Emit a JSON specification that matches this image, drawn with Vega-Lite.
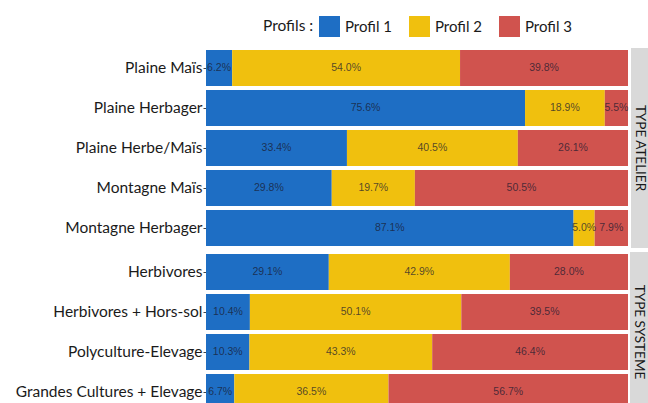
{
  "$schema": "https://vega.github.io/schema/vega-lite/v6.json",
  "padding": {"left": 0, "top": 16, "right": 0, "bottom": 0},
  "background": "white",
  "datasets": {
    "d": [
      {"panel": "A", "cat": "Plaine Maïs", "profil": "Profil 1", "pct": 6.2},
      {"panel": "A", "cat": "Plaine Maïs", "profil": "Profil 2", "pct": 54.0},
      {"panel": "A", "cat": "Plaine Maïs", "profil": "Profil 3", "pct": 39.8},
      {"panel": "A", "cat": "Plaine Herbager", "profil": "Profil 1", "pct": 75.6},
      {"panel": "A", "cat": "Plaine Herbager", "profil": "Profil 2", "pct": 18.9},
      {"panel": "A", "cat": "Plaine Herbager", "profil": "Profil 3", "pct": 5.5},
      {"panel": "A", "cat": "Plaine Herbe/Maïs", "profil": "Profil 1", "pct": 33.4},
      {"panel": "A", "cat": "Plaine Herbe/Maïs", "profil": "Profil 2", "pct": 40.5},
      {"panel": "A", "cat": "Plaine Herbe/Maïs", "profil": "Profil 3", "pct": 26.1},
      {"panel": "A", "cat": "Montagne Maïs", "profil": "Profil 1", "pct": 29.8},
      {"panel": "A", "cat": "Montagne Maïs", "profil": "Profil 2", "pct": 19.7},
      {"panel": "A", "cat": "Montagne Maïs", "profil": "Profil 3", "pct": 50.5},
      {"panel": "A", "cat": "Montagne Herbager", "profil": "Profil 1", "pct": 87.1},
      {"panel": "A", "cat": "Montagne Herbager", "profil": "Profil 2", "pct": 5.0},
      {"panel": "A", "cat": "Montagne Herbager", "profil": "Profil 3", "pct": 7.9},
      {"panel": "B", "cat": "Herbivores", "profil": "Profil 1", "pct": 29.1},
      {"panel": "B", "cat": "Herbivores", "profil": "Profil 2", "pct": 42.9},
      {"panel": "B", "cat": "Herbivores", "profil": "Profil 3", "pct": 28.0},
      {"panel": "B", "cat": "Herbivores + Hors-sol", "profil": "Profil 1", "pct": 10.4},
      {"panel": "B", "cat": "Herbivores + Hors-sol", "profil": "Profil 2", "pct": 50.1},
      {"panel": "B", "cat": "Herbivores + Hors-sol", "profil": "Profil 3", "pct": 39.5},
      {"panel": "B", "cat": "Polyculture-Elevage", "profil": "Profil 1", "pct": 10.3},
      {"panel": "B", "cat": "Polyculture-Elevage", "profil": "Profil 2", "pct": 43.3},
      {"panel": "B", "cat": "Polyculture-Elevage", "profil": "Profil 3", "pct": 46.4},
      {"panel": "B", "cat": "Grandes Cultures + Elevage", "profil": "Profil 1", "pct": 6.7},
      {"panel": "B", "cat": "Grandes Cultures + Elevage", "profil": "Profil 2", "pct": 36.5},
      {"panel": "B", "cat": "Grandes Cultures + Elevage", "profil": "Profil 3", "pct": 56.7}
    ]
  },
  "vconcat": [
    {
      "hconcat": [
        {
          "width": 422,
          "height": 200,
          "data": {"name": "d"},
          "transform": [
            {"filter": "datum.panel === 'A'"},
            {"stack": "pct", "groupby": ["cat"], "sort": [{"field": "profil", "order": "ascending"}], "as": ["x0", "x1"], "offset": "normalize"},
            {"calculate": "(datum.x0 + datum.x1) / 2", "as": "mid"},
            {"calculate": "format(datum.pct, '.1f') + '%'", "as": "lab"}
          ],
          "encoding": {
            "y": {
              "field": "cat", "type": "nominal", "title": null,
              "sort": ["Plaine Maïs", "Plaine Herbager", "Plaine Herbe/Maïs", "Montagne Maïs", "Montagne Herbager"],
              "scale": {"paddingInner": 0.1, "paddingOuter": 0.05}
            }
          },
          "layer": [
            {
              "mark": {"type": "bar"},
              "encoding": {
                "x": {"field": "x0", "type": "quantitative", "scale": {"domain": [0, 1], "nice": false, "zero": false}, "axis": null},
                "x2": {"field": "x1"},
                "color": {
                  "field": "profil", "type": "nominal",
                  "scale": {"domain": ["Profil 1", "Profil 2", "Profil 3"], "range": ["#1E6EC4", "#F0C00E", "#D0534E"]},
                  "legend": {"title": "Profils :"}
                }
              }
            },
            {
              "mark": {"type": "text", "font": "Liberation Sans", "fontSize": 10.5, "fill": "#1a1a2e", "fillOpacity": 0.75},
              "encoding": {
                "x": {"field": "mid", "type": "quantitative"},
                "text": {"field": "lab"}
              }
            }
          ]
        },
        {
          "width": 18,
          "height": 200,
          "view": {"fill": "#d9d9d9", "stroke": null},
          "data": {"values": [{"g": "TYPE ATELIER"}]},
          "mark": {"type": "text", "angle": 90, "font": "Lato", "fontSize": 13.5, "fill": "#1a1a1a", "align": "center", "baseline": "middle"},
          "encoding": {"text": {"field": "g"}}
        }
      ]
    },
    {
      "hconcat": [
        {
          "width": 422,
          "height": 160,
          "data": {"name": "d"},
          "transform": [
            {"filter": "datum.panel === 'B'"},
            {"stack": "pct", "groupby": ["cat"], "sort": [{"field": "profil", "order": "ascending"}], "as": ["x0", "x1"], "offset": "normalize"},
            {"calculate": "(datum.x0 + datum.x1) / 2", "as": "mid"},
            {"calculate": "format(datum.pct, '.1f') + '%'", "as": "lab"}
          ],
          "encoding": {
            "y": {
              "field": "cat", "type": "nominal", "title": null,
              "sort": ["Herbivores", "Herbivores + Hors-sol", "Polyculture-Elevage", "Grandes Cultures + Elevage"],
              "scale": {"paddingInner": 0.1, "paddingOuter": 0.05}
            }
          },
          "layer": [
            {
              "mark": {"type": "bar"},
              "encoding": {
                "x": {"field": "x0", "type": "quantitative", "scale": {"domain": [0, 1], "nice": false, "zero": false}, "axis": null},
                "x2": {"field": "x1"},
                "color": {
                  "field": "profil", "type": "nominal",
                  "scale": {"domain": ["Profil 1", "Profil 2", "Profil 3"], "range": ["#1E6EC4", "#F0C00E", "#D0534E"]},
                  "legend": {"title": "Profils :"}
                }
              }
            },
            {
              "mark": {"type": "text", "font": "Liberation Sans", "fontSize": 10.5, "fill": "#1a1a2e", "fillOpacity": 0.75},
              "encoding": {
                "x": {"field": "mid", "type": "quantitative"},
                "text": {"field": "lab"}
              }
            }
          ]
        },
        {
          "width": 18,
          "height": 160,
          "view": {"fill": "#d9d9d9", "stroke": null},
          "data": {"values": [{"g": "TYPE SYSTEME"}]},
          "mark": {"type": "text", "angle": 90, "font": "Lato", "fontSize": 13.5, "fill": "#1a1a1a", "align": "center", "baseline": "middle"},
          "encoding": {"text": {"field": "g"}}
        }
      ]
    }
  ],
  "spacing": 4,
  "config": {
    "view": {"stroke": null},
    "concat": {"spacing": 2},
    "axisY": {
      "labelFont": "Lato", "labelFontSize": 15.5, "labelColor": "#1a1a1a",
      "domain": false, "ticks": true, "tickSize": 3, "tickColor": "#444", "labelPadding": 1,
      "minExtent": 206, "maxExtent": 206, "labelLimit": 250
    },
    "legend": {
      "orient": "none", "legendX": 57, "legendY": -32, "direction": "horizontal",
      "titleOrient": "left", "titleFont": "Lato", "titleFontSize": 15.5, "titleFontWeight": "normal", "titleColor": "#1a1a1a",
      "titleBaseline": "middle", "titlePadding": 5,
      "labelFont": "Lato", "labelFontSize": 15, "labelColor": "#1a1a1a",
      "symbolType": "square", "symbolSize": 440, "symbolStrokeWidth": 0, "symbolOpacity": 1,
      "columnPadding": 16, "labelOffset": 5
    }
  }
}
